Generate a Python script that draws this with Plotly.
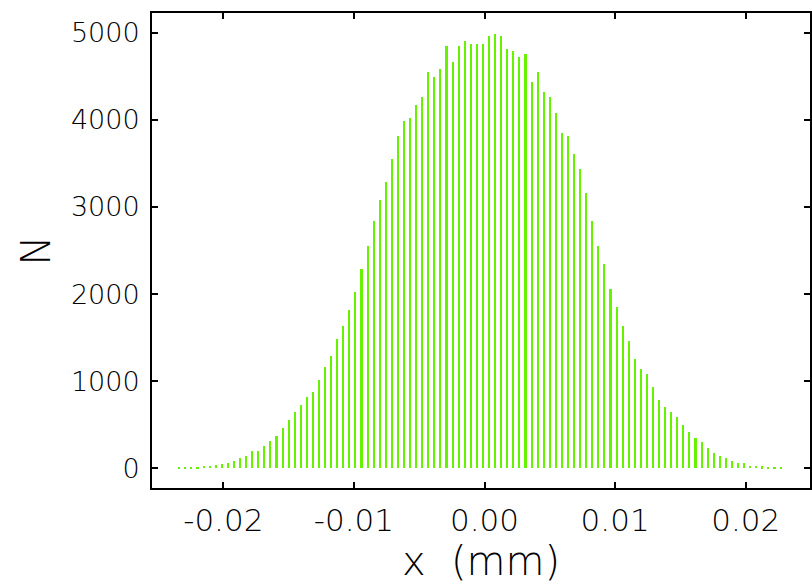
import plotly.graph_objects as go

# histogram bin centres (mm)
bin_centers = [
    -0.023370, -0.022905, -0.022440, -0.021975, -0.021510, -0.021045, -0.020580, -0.020115, -0.019650, -0.019185,
    -0.018720, -0.018255, -0.017790, -0.017325, -0.016860, -0.016395, -0.015930, -0.015465, -0.015000, -0.014535,
    -0.014070, -0.013605, -0.013140, -0.012675, -0.012210, -0.011745, -0.011280, -0.010815, -0.010350, -0.009885,
    -0.009420, -0.008955, -0.008490, -0.008025, -0.007560, -0.007095, -0.006630, -0.006165, -0.005700, -0.005235,
    -0.004770, -0.004305, -0.003840, -0.003375, -0.002910, -0.002445, -0.001980, -0.001515, -0.001050, -0.000585,
    -0.000120, 0.000345, 0.000810, 0.001275, 0.001740, 0.002205, 0.002670, 0.003135, 0.003600, 0.004065,
    0.004530, 0.004995, 0.005460, 0.005925, 0.006390, 0.006855, 0.007320, 0.007785, 0.008250, 0.008715,
    0.009180, 0.009645, 0.010110, 0.010575, 0.011040, 0.011505, 0.011970, 0.012435, 0.012900, 0.013365,
    0.013830, 0.014295, 0.014760, 0.015225, 0.015690, 0.016155, 0.016620, 0.017085, 0.017550, 0.018015,
    0.018480, 0.018945, 0.019410, 0.019875, 0.020340, 0.020805, 0.021270, 0.021735, 0.022200, 0.022665,
]

# counts per bin
counts = [
    12, 15, 18, 20, 24, 28, 34, 50, 57, 88,
    115, 145, 203, 203, 260, 318, 375, 463, 555, 643,
    730, 816, 878, 1019, 1165, 1287, 1490, 1639, 1815, 2022,
    2282, 2550, 2841, 3078, 3284, 3553, 3813, 3989, 4019, 4165,
    4261, 4548, 4490, 4578, 4842, 4666, 4842, 4903, 4869, 4869,
    4869, 4957, 4988, 4957, 4816, 4785, 4724, 4754, 4433, 4548,
    4314, 4257, 4081, 3843, 3813, 3606, 3430, 3163, 2841, 2550,
    2343, 2053, 1846, 1639, 1459, 1257, 1142, 1080, 931, 786,
    701, 645, 586, 498, 413, 352, 299, 233, 176, 145,
    115, 88, 57, 57, 30, 26, 22, 18, 15, 12,
]

x_tick_vals = [-0.02, -0.01, 0.0, 0.01, 0.02]
x_tick_text = ["-0.02", "-0.01", "0.00", "0.01", "0.02"]
y_tick_vals = [0, 1000, 2000, 3000, 4000, 5000]
y_tick_text = ["0", "1000", "2000", "3000", "4000", "5000"]

fig = go.Figure()
fig.add_trace(go.Bar(
    x=bin_centers, y=counts, width=0.00016,
    marker=dict(color="#66F200", line=dict(width=0)),
    hoverinfo="x+y",
))

axis_common = dict(
    showgrid=False, zeroline=False, showline=True, linecolor="black", linewidth=2,
    mirror="allticks", ticks="inside", ticklen=6, tickwidth=2, tickcolor="black",
)

fig.update_layout(
    width=812, height=588,
    margin=dict(l=152, r=0, t=13, b=100),
    paper_bgcolor="white", plot_bgcolor="white",
    showlegend=False,
    bargap=0,
    xaxis=dict(
        range=[-0.02546, 0.02492], tickmode="array", tickvals=x_tick_vals, ticktext=x_tick_text,
        tickfont=dict(family="DejaVu Sans", size=31, color="black", weight=300),
        ticklabelstandoff=4,
        title=dict(text="x  (mm)", font=dict(family="DejaVu Sans", size=40, color="black", weight=300), standoff=8),
        **axis_common,
    ),
    yaxis=dict(
        range=[-226, 5226], tickmode="array", tickvals=y_tick_vals, ticktext=y_tick_text,
        tickfont=dict(family="DejaVu Sans", size=27, color="black", weight=300),
        ticklabelstandoff=5,
        title=dict(text="N", font=dict(family="DejaVu Sans", size=40, color="black", weight=300), standoff=8),
        **axis_common,
    ),
)

fig.write_html("out.html")
